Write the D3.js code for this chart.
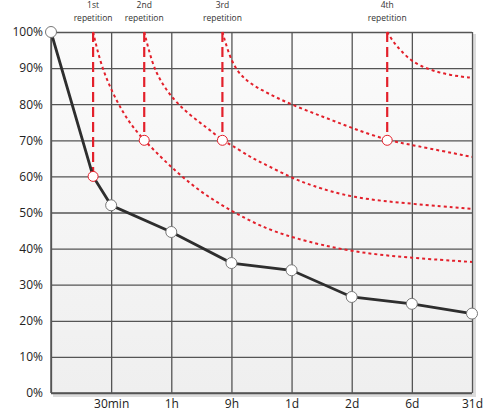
<!DOCTYPE html>
<html>
<head>
<meta charset="utf-8">
<script src="https://cdn.jsdelivr.net/npm/d3@7"></script>
<style>
  body { margin: 0; background: #fff; }
  text { font-family: "Open Sans", sans-serif; }
</style>
</head>
<body>
<div id="chart"></div>
<script>
// x categories (index 0 is the start, unlabeled)
let xLabels = ["", "30min", "1h", "9h", "1d", "2d", "6d", "31d"];
let yTicks = [0, 10, 20, 30, 40, 50, 60, 70, 80, 90, 100];

// forgetting curve without repetition (x as category index, y as percent)
let baseX = [0, 0.70, 1, 2, 3, 4, 5, 6, 7];
let baseY = [100, 60, 52, 44.6, 36, 34, 26.6, 24.7, 22];

// repetitions
let repNames = ["1st", "2nd", "3rd", "4th"];
let repX = [0.70, 1.55, 2.85, 5.59];
let repY = [60, 70, 70, 70];

// curves after each repetition
let curve1X = [0.70, 0.82, 1.0, 1.2, 1.36, 1.55, 1.76, 2.0, 2.48, 3.0, 3.48, 4.0, 5.0, 6.0, 7.0];
let curve1Y = [100, 91.4, 83.9, 77.6, 73.7, 70, 66.5, 62.5, 55.7, 50.4, 46.2, 43, 39, 37.4, 36.3];
let curve2X = [1.55, 1.68, 1.81, 2.0, 2.26, 2.6, 2.85, 3.0, 3.31, 3.48, 4.0, 4.31, 5.0, 6.0, 7.0];
let curve2Y = [100, 91.4, 86.7, 82, 77.6, 73.4, 70, 68.7, 65.4, 64, 59.6, 57.6, 54, 52.4, 51];
let curve3X = [2.85, 3.0, 3.2, 3.48, 4.0, 4.53, 5.0, 5.59, 6.0, 7.0];
let curve3Y = [100, 91.4, 87, 84, 79.8, 76.5, 73.4, 70, 68.7, 65.4];
let curve4X = [5.59, 5.7, 5.81, 6.0, 6.31, 6.64, 7.0];
let curve4Y = [100, 97, 95, 91.7, 89.4, 88, 87.3];

let curvesX = [curve1X, curve2X, curve3X, curve4X];
let curvesY = [curve1Y, curve2Y, curve3Y, curve4Y];

let w = 500, h = 419;
let margin = {top: 32, right: 28, bottom: 26, left: 51},
    width = w - margin.left - margin.right,
    height = h - margin.top - margin.bottom;

let xScale = d3.scaleLinear().domain([0, 7]).range([0, width]);
let yScale = d3.scaleLinear().domain([0, 100]).range([height, 0]);

let svg = d3.select("#chart").append("svg")
    .attr("width", w)
    .attr("height", h);

let defs = svg.append("defs");
let grad = defs.append("linearGradient").attr("id", "bg")
    .attr("x1", 0).attr("y1", 0).attr("x2", 0).attr("y2", 1);
grad.append("stop").attr("offset", "0%").attr("stop-color", "#fbfbfb");
grad.append("stop").attr("offset", "100%").attr("stop-color", "#efefef");

let g = svg.append("g")
    .attr("transform", "translate(" + margin.left + "," + margin.top + ")");

// shadow + background of plot area
g.append("rect")
    .attr("x", 2).attr("y", 2)
    .attr("width", width + 2).attr("height", height + 2)
    .attr("fill", "#dcdcdc");
g.append("rect")
    .attr("width", width).attr("height", height)
    .attr("fill", "url(#bg)");

// horizontal grid
g.append("g")
    .call(d3.axisLeft(yScale).tickValues(yTicks).tickSize(-width).tickFormat(""))
    .call(a => a.select(".domain").remove())
    .selectAll("line").attr("stroke", "#555").attr("stroke-width", 1.3);

// vertical grid
g.append("g")
    .attr("transform", "translate(0," + height + ")")
    .call(d3.axisBottom(xScale).tickValues(d3.range(0, 8)).tickSize(-height).tickFormat(""))
    .call(a => a.select(".domain").remove())
    .selectAll("line").attr("stroke", "#555").attr("stroke-width", 1.3);

// left and bottom border
g.append("line").attr("x1", 0).attr("x2", 0).attr("y1", 0).attr("y2", height)
    .attr("stroke", "#555").attr("stroke-width", 1.5);
g.append("line").attr("x1", 0).attr("x2", width).attr("y1", height).attr("y2", height)
    .attr("stroke", "#555").attr("stroke-width", 1.5);

// y axis labels
g.append("g")
    .call(d3.axisLeft(yScale).tickValues(yTicks).tickSize(0).tickPadding(8)
        .tickFormat(d => d + "%"))
    .call(a => a.select(".domain").remove())
    .selectAll("text")
    .style("font-size", "12px")
    .attr("fill", "#222");

// x axis labels
g.append("g")
    .attr("transform", "translate(0," + height + ")")
    .call(d3.axisBottom(xScale).tickValues(d3.range(1, 8)).tickSize(0).tickPadding(6)
        .tickFormat(d => xLabels[d]))
    .call(a => a.select(".domain").remove())
    .selectAll("text")
    .style("font-size", "12px")
    .attr("fill", "#222");

// red dotted curves after repetitions
let curveLine = d3.line()
    .x(d => xScale(d[0]))
    .y(d => yScale(d[1]))
    .curve(d3.curveBasis);

for (let i = 0; i < curvesX.length; i++) {
    let pts = curvesX[i].map((x, j) => [x, curvesY[i][j]]);
    g.append("path")
        .attr("d", curveLine(pts))
        .attr("fill", "none")
        .attr("stroke", "#e3202b")
        .attr("stroke-width", 2)
        .attr("stroke-dasharray", "3,3");
}

// red dashed verticals
for (let i = 0; i < repX.length; i++) {
    g.append("line")
        .attr("x1", xScale(repX[i])).attr("x2", xScale(repX[i]))
        .attr("y1", yScale(100)).attr("y2", yScale(repY[i]))
        .attr("stroke", "#e3202b")
        .attr("stroke-width", 2.2)
        .attr("stroke-dasharray", "10,5");
}

// black forgetting curve
let baseLine = d3.line()
    .x(d => xScale(d[0]))
    .y(d => yScale(d[1]));
let basePts = baseX.map((x, j) => [x, baseY[j]]);
g.append("path")
    .attr("d", baseLine(basePts))
    .attr("fill", "none")
    .attr("stroke", "#2e2e2e")
    .attr("stroke-width", 2.8);

g.selectAll("circle.base")
    .data(basePts.filter(d => d[0] !== repX[0]))
    .enter().append("circle")
    .attr("class", "base")
    .attr("cx", d => xScale(d[0]))
    .attr("cy", d => yScale(d[1]))
    .attr("r", 5.5)
    .attr("fill", "#fff")
    .attr("stroke", "#777")
    .attr("stroke-width", 1);

// repetition markers
g.selectAll("circle.rep")
    .data(repX.map((x, j) => [x, repY[j]]))
    .enter().append("circle")
    .attr("class", "rep")
    .attr("cx", d => xScale(d[0]))
    .attr("cy", d => yScale(d[1]))
    .attr("r", 5)
    .attr("fill", "#fff")
    .attr("stroke", "#e3202b")
    .attr("stroke-width", 1);

// repetition labels
for (let i = 0; i < repX.length; i++) {
    let t = g.append("text")
        .attr("x", xScale(repX[i]))
        .attr("y", -24)
        .attr("text-anchor", "middle")
        .style("font-size", "8.5px")
        .attr("fill", "#333");
    t.append("tspan").attr("x", xScale(repX[i])).text(repNames[i]);
    t.append("tspan").attr("x", xScale(repX[i])).attr("dy", 13).text("repetition");
}
</script>
</body>
</html>
